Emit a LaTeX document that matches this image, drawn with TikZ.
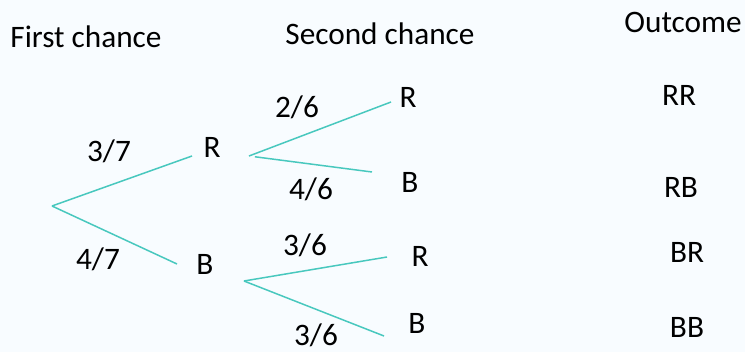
\documentclass[tikz,border=0pt]{standalone}
\usepackage{fontspec}
\setmainfont{Carlito}
\usepackage{tikz}
\usepackage{xcolor}
\definecolor{treeline}{RGB}{72,200,190}
\definecolor{paper}{RGB}{248,252,255}
\tikzset{mytext/.style={font=\fontsize{17.8}{21}\selectfont, inner sep=2pt}}
\tikzset{mybranch/.style={draw=treeline, line width=0.85pt}}
\begin{document}
\begin{tikzpicture}[x=0.02cm, y=-0.02cm]

\fill[paper] (0, 0) rectangle (745, 352);
\useasboundingbox (0, 0) rectangle (745, 352);

\node[mytext] (head1) at (86, 37) {First chance};
\node[mytext] (head2) at (380, 34) {Second chance};
\node[mytext] (head3) at (683, 22) {Outcome};

\coordinate (root) at (52, 206);
\node[mytext] (r1) at (212, 147) {R};
\node[mytext] (b1) at (205, 264) {B};

\coordinate (rfork) at (249, 156);
\coordinate (bfork) at (244, 281);

\node[mytext] (rr) at (408, 97) {R};
\node[mytext] (rb) at (410, 182) {B};
\node[mytext] (br) at (420, 256) {R};
\node[mytext] (bb) at (417, 323) {B};

\node[mytext] (p1) at (109, 151) {3/7};
\node[mytext] (p2) at (98, 259) {4/7};
\node[mytext] (p3) at (297, 107) {2/6};
\node[mytext] (p4) at (311, 189) {4/6};
\node[mytext] (p5) at (305, 245) {3/6};
\node[mytext, inner sep=0pt] (p6) at (316, 335) {3/6};

\node[mytext] (out1) at (679, 95) {RR};
\node[mytext] (out2) at (681, 187) {RB};
\node[mytext] (out3) at (687, 252) {BR};
\node[mytext] (out4) at (687, 327) {BB};

\draw[mybranch] (root) to ([xshift=-0.4cm, yshift=-0.18cm]r1.center);
\draw[mybranch] (root) to ([xshift=-0.56cm]b1.center);
\draw[mybranch] (rfork) to ([xshift=-0.34cm, yshift=-0.1cm]rr.center);
\draw[mybranch, shorten <=3.4pt] (rfork) to ([xshift=-0.76cm, yshift=0.2cm]rb.center);
\draw[mybranch] (bfork) to ([xshift=-0.66cm, yshift=-0.02cm]br.center);
\draw[mybranch] (bfork) to ([xshift=-0.66cm, yshift=-0.26cm]bb.center);

\end{tikzpicture}
\end{document}
